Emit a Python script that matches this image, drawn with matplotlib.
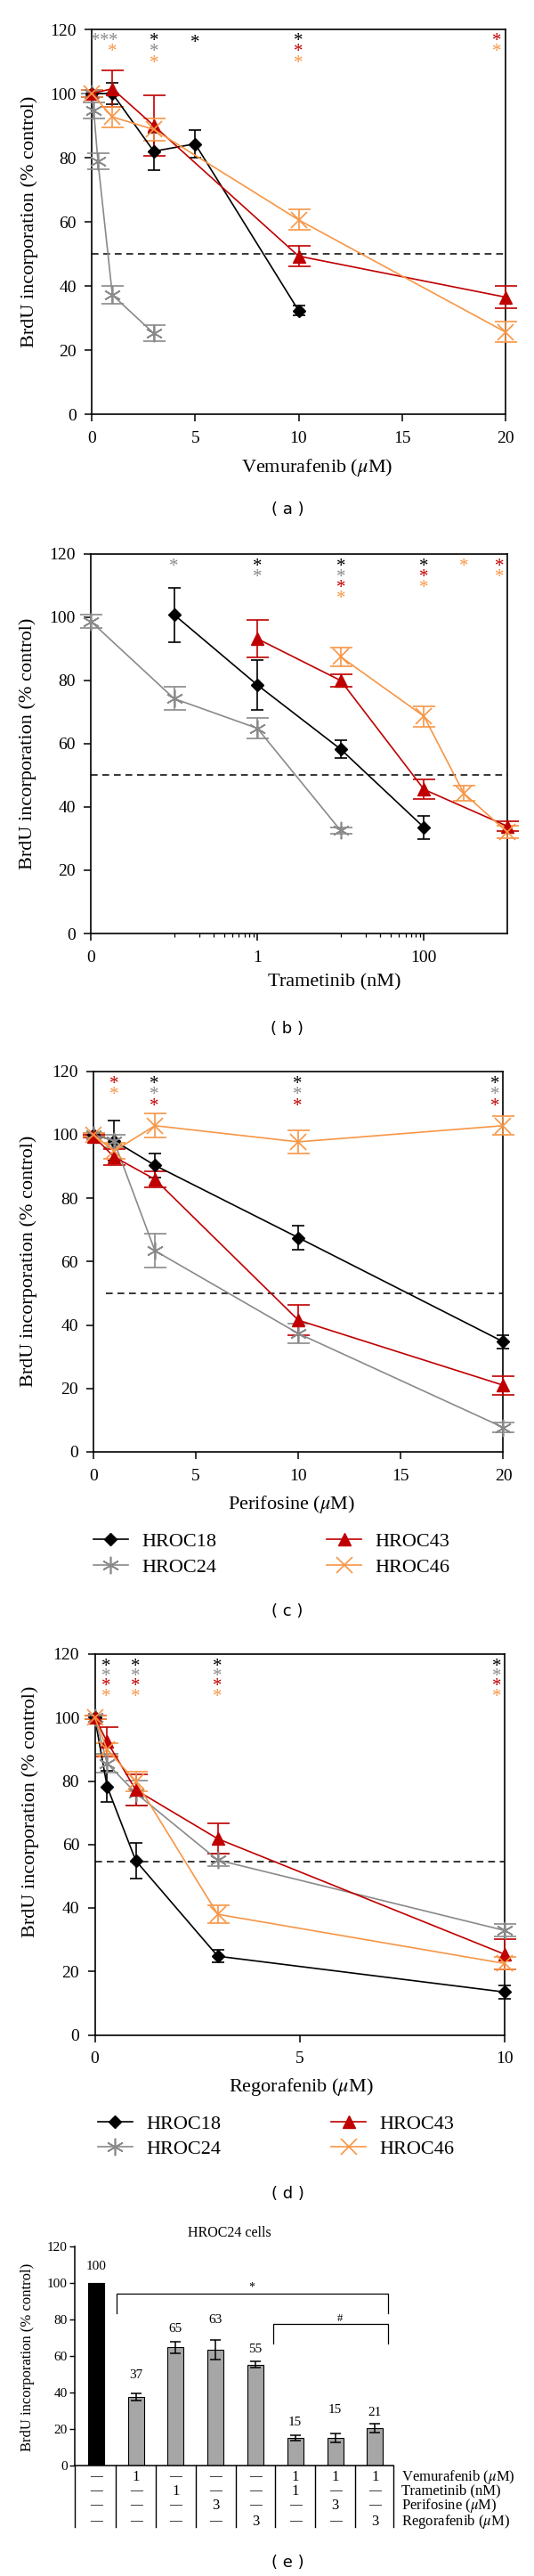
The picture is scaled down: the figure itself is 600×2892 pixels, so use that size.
import numpy as np
import matplotlib
matplotlib.use('Agg')
import matplotlib.pyplot as plt
import matplotlib.transforms as mtransforms
from matplotlib.ticker import FixedLocator, NullFormatter

plt.rcParams['font.family'] = ['Liberation Serif', 'DejaVu Serif']
plt.rcParams['mathtext.fontset'] = 'stix'

lines = ['HROC18', 'HROC24', 'HROC43', 'HROC46']

# (a) Vemurafenib (uM)
vem_x18 = [0, 1, 3, 5, 10]
vem_y18 = [100, 100, 82, 84.3, 32.3]
vem_e18 = [0.8, 3.2, 5.9, 4.4, 1.5]
vem_x24 = [0, 0.1, 0.3, 1, 3]
vem_y24 = [100, 94.8, 79, 37.2, 25.2]
vem_e24 = [0, 2.5, 2.5, 2.7, 2.5]
vem_x43 = [0, 1, 3, 10, 20]
vem_y43 = [100, 101.5, 90, 49.3, 36.5]
vem_e43 = [1, 5.6, 9.5, 3.3, 3.5]
vem_x46 = [0, 1, 3, 10, 20]
vem_y46 = [100, 92.7, 88.8, 60.6, 25.6]
vem_e46 = [1, 3.2, 3.4, 3.2, 3.2]

# (b) Trametinib (nM), dose 0 drawn at the "0" tick
tra_x18 = [0.1, 1, 10, 100]
tra_y18 = [100.7, 78.5, 58.2, 33.5]
tra_e18 = [8.6, 7.9, 2.9, 3.7]
tra_x24 = [0, 0.1, 1, 10]
tra_y24 = [98.6, 74.2, 64.8, 32.5]
tra_e24 = [2, 3.6, 3.3, 1]
tra_x43 = [1, 10, 100, 1000]
tra_y43 = [93.1, 79.9, 45.5, 33.9]
tra_e43 = [5.9, 2, 3.1, 1.5]
tra_x46 = [10, 100, 300, 1000]
tra_y46 = [87.4, 68.6, 44.3, 32]
tra_e46 = [3, 3.2, 2.5, 2]

# (c) Perifosine (uM)
per_x = [0, 1, 3, 10, 20]
per_y18 = [100, 98.1, 90.3, 67.5, 34.7]
per_e18 = [0.5, 6.2, 3.8, 3.8, 2]
per_y24 = [100, 98, 63.4, 37.3, 7.7]
per_e24 = [0.5, 2, 5.3, 3, 1.5]
per_y43 = [99.5, 93, 85.9, 41.5, 21]
per_e43 = [0.5, 2.5, 2.6, 4.7, 2.9]
per_y46 = [100, 94.8, 102.8, 97.7, 102.8]
per_e46 = [0.5, 2.5, 3.8, 3.6, 3]

# (d) Regorafenib (uM)
reg_x = [0, 0.3, 1, 3, 10]
reg_y18 = [100, 78.3, 54.9, 24.8, 13.5]
reg_e18 = [0.5, 4.9, 5.6, 2, 2]
reg_y24 = [100, 85.6, 76.2, 55.1, 32.9]
reg_e24 = [0.5, 3, 4, 2, 2]
reg_y43 = [100, 92.4, 77.2, 61.8, 25.4]
reg_e43 = [0.5, 4.6, 4.8, 4.8, 4.8]
reg_y46 = [100, 89.9, 79.9, 38, 22.5]
reg_e46 = [0.5, 2, 3, 2.9, 2]

# significance asterisks: x, row, cell line
sig_a = [(0.2, 0, 'HROC24'), (0.6, 0, 'HROC24'), (1.04, 0, 'HROC24'), (1, 1, 'HROC46'),
         (3, 0, 'HROC18'), (3, 1, 'HROC24'), (3, 2, 'HROC46'), (5, 0.2, 'HROC18'),
         (10, 0, 'HROC18'), (10, 1, 'HROC43'), (10, 2, 'HROC46'),
         (19.6, 0, 'HROC43'), (19.6, 1, 'HROC46')]
sig_b = [(0.1, 0, 'HROC24'), (1, 0, 'HROC18'), (1, 1, 'HROC24'),
         (10, 0, 'HROC18'), (10, 1, 'HROC24'), (10, 2, 'HROC43'), (10, 3, 'HROC46'),
         (100, 0, 'HROC18'), (100, 1, 'HROC43'), (100, 2, 'HROC46'),
         (300, 0, 'HROC46'), (800, 0, 'HROC43'), (800, 1, 'HROC46')]
sig_c = [(1, 0, 'HROC43'), (1, 1, 'HROC46'),
         (2.95, 0, 'HROC18'), (2.95, 1, 'HROC24'), (2.95, 2, 'HROC43'),
         (9.94, 0, 'HROC18'), (9.94, 1, 'HROC24'), (9.94, 2, 'HROC43'),
         (19.6, 0, 'HROC18'), (19.6, 1, 'HROC24'), (19.6, 2, 'HROC43')]
sig_d = [(x, r, n) for x in [0.27, 1, 3, 9.8] for r, n in enumerate(lines)]

# (e) HROC24 combinations
combo_mean = [100, 37.4, 64.7, 63.4, 55.3, 15.1, 15.3, 20.6]
combo_err = [0, 1.9, 3.1, 5.5, 1.8, 1.4, 2.4, 2.4]
combo_vem = ['—', '1', '—', '—', '—', '1', '1', '1']
combo_tra = ['—', '—', '1', '—', '—', '1', '—', '—']
combo_per = ['—', '—', '—', '3', '—', '—', '3', '—']
combo_reg = ['—', '—', '—', '—', '3', '—', '—', '3']
combo_rows = ['Vemurafenib ($\\mu$M)', 'Trametinib (nM)', 'Perifosine ($\\mu$M)', 'Regorafenib ($\\mu$M)']

colors = {'HROC18': 'black', 'HROC24': '#8a8a8a', 'HROC43': '#c00000', 'HROC46': '#f79646'}
styles = {
    'HROC18': dict(marker='D', ms=7.5, mew=1, cap=5),
    'HROC24': dict(marker=(6, 2, 0), ms=14, mew=1.2, cap=9),
    'HROC43': dict(marker='^', ms=10, mew=1, cap=9),
    'HROC46': dict(marker='x', ms=13, mew=1.2, cap=9),
}

W, H = 600, 2892
fig = plt.figure(figsize=(W / 100, H / 100), dpi=100)


def box(l, r, t, b):
    return [l / W, 1 - b / H, (r - l) / W, (b - t) / H]


def series(ax, x, y, e, name):
    st = styles[name]
    c = colors[name]
    ax.errorbar(x, y, yerr=e, fmt='none', ecolor=c, elinewidth=1.2,
                capsize=st['cap'], capthick=1.2, zorder=3, clip_on=False)
    h, = ax.plot(x, y, color=c, lw=1.2, marker=st['marker'], ms=st['ms'],
                 mew=st['mew'], mfc=c, mec=c, zorder=4, clip_on=False)
    return h


def stars(ax, sig, row_y, step):
    for x, r, n in sig:
        ax.annotate('*', (x, row_y - r * step), xytext=(0, -7.5), textcoords='offset points',
                    ha='center', va='baseline', color=colors[n], fontsize=15,
                    annotation_clip=False)


def frame(ax, xlabel, lx, ly, yx):
    ax.set_ylim(0, 120)
    ax.set_yticks(range(0, 121, 20))
    for s in ax.spines.values():
        s.set_linewidth(1.2)
    ax.tick_params(direction='out', length=5.5, width=1.1, labelsize=14)
    ax.tick_params(axis='x', pad=8)
    ax.tick_params(axis='y', pad=7)
    ax.set_xlabel(xlabel, fontsize=16)
    ax.xaxis.set_label_coords(lx, ly)
    ax.set_ylabel('BrdU incorporation (% control)', fontsize=16)
    ax.yaxis.set_label_coords(yx, 0.5)


def legend(ax, hs, left, top, spacing):
    ax.legend(hs, lines, ncol=2, loc='upper left', bbox_to_anchor=(left / W, 1 - top / H),
              bbox_transform=fig.transFigure, frameon=False, fontsize=16, handlelength=1.75,
              handletextpad=0.68, columnspacing=5.6, labelspacing=spacing, borderpad=0,
              borderaxespad=0)


def panel_label(txt, y):
    fig.text(323 / W, 1 - y / H, txt, ha='center', va='center', fontsize=13,
             family='DejaVu Sans')


# ---- (a)
ax = fig.add_axes(box(103, 568, 33, 465))
series(ax, vem_x18, vem_y18, vem_e18, 'HROC18')
series(ax, vem_x24, vem_y24, vem_e24, 'HROC24')
series(ax, vem_x43, vem_y43, vem_e43, 'HROC43')
series(ax, vem_x46, vem_y46, vem_e46, 'HROC46')
ax.axhline(50, color='black', lw=1.1, ls=(0, (5, 3.5)), zorder=1)
ax.set_xlim(0, 20)
ax.set_xticks([0, 5, 10, 15, 20])
frame(ax, 'Vemurafenib ($\\mu$M)', 0.544, -0.111, -0.13)
stars(ax, sig_a, 118, 3.5)
panel_label('( a )', 572)

# ---- (b)
ax = fig.add_axes(box(102, 570, 621.5, 1048))
ax.set_xscale('log')
zero = lambda xs: [v if v > 0 else 0.01 for v in xs]
series(ax, zero(tra_x18), tra_y18, tra_e18, 'HROC18')
series(ax, zero(tra_x24), tra_y24, tra_e24, 'HROC24')
series(ax, zero(tra_x43), tra_y43, tra_e43, 'HROC43')
series(ax, zero(tra_x46), tra_y46, tra_e46, 'HROC46')
ax.axhline(50, color='black', lw=1.1, ls=(0, (5, 3.5)), zorder=1)
ax.set_xlim(0.01, 1000)
ax.set_xticks([0.01, 1, 100])
ax.set_xticklabels(['0', '1', '100'])
ax.xaxis.set_minor_locator(FixedLocator([k * 0.1 for k in range(1, 10)] + [k * 10 for k in range(1, 10)]))
ax.xaxis.set_minor_formatter(NullFormatter())
frame(ax, 'Trametinib (nM)', 0.586, -0.107, -0.13)
ax.tick_params(which='minor', direction='out', length=3, width=0.9)
stars(ax, sig_b, 117.5, 3.4)
panel_label('( b )', 1155)

# ---- (c)
ax = fig.add_axes(box(105, 565.5, 1202.5, 1630))
hs = [series(ax, per_x, per_y18, per_e18, 'HROC18'),
      series(ax, per_x, per_y24, per_e24, 'HROC24'),
      series(ax, per_x, per_y43, per_e43, 'HROC43'),
      series(ax, per_x, per_y46, per_e46, 'HROC46')]
ax.axhline(50, xmin=0.03, color='black', lw=1.1, ls=(0, (5, 3.5)), zorder=1)
ax.set_xlim(0, 20)
ax.set_xticks([0, 5, 10, 15, 20])
frame(ax, 'Perifosine ($\\mu$M)', 0.483, -0.110, -0.136)
stars(ax, sig_c, 117.5, 3.5)
legend(ax, hs, 105, 1720.5, 0.37)
panel_label('( c )', 1809)

# ---- (d)
ax = fig.add_axes(box(106.5, 567, 1857, 2284.5))
hs = [series(ax, reg_x, reg_y18, reg_e18, 'HROC18'),
      series(ax, reg_x, reg_y24, reg_e24, 'HROC24'),
      series(ax, reg_x, reg_y43, reg_e43, 'HROC43'),
      series(ax, reg_x, reg_y46, reg_e46, 'HROC46')]
ax.axhline(54.6, color='black', lw=1.1, ls=(0, (5, 3.5)), zorder=1)
ax.set_xlim(0, 10)
ax.set_xticks([0, 5, 10])
frame(ax, 'Regorafenib ($\\mu$M)', 0.503, -0.109, -0.136)
ax.yaxis.set_label_coords(-0.136, 0.586)
stars(ax, sig_d, 117.7, 3.2)
legend(ax, hs, 110, 2374.5, 0.33)
panel_label('( d )', 2463)

# ---- (e)
ax = fig.add_axes(box(84, 442, 2522, 2768))
pos = np.arange(len(combo_mean))
bar_cols = ['black'] + ['#a6a6a6'] * (len(combo_mean) - 1)
ax.bar(pos, combo_mean, width=0.4, color=bar_cols, edgecolor='black', lw=0.8, zorder=2)
ax.errorbar(pos[1:], combo_mean[1:], yerr=combo_err[1:], fmt='none', ecolor='black',
            elinewidth=1.1, capsize=4, capthick=1.1, zorder=3)
label_pad = [9, 10.3, 7, 10.8, 6.8, 7, 13, 6.1]
for p, m, e, pad in zip(pos, combo_mean, combo_err, label_pad):
    ax.text(p, m + e + pad, f'{m:.0f}', ha='center', va='center', fontsize=11)
ax.set_xlim(-0.53, 7.46)
ax.set_ylim(0, 120)
ax.set_yticks(range(0, 121, 20))
ax.set_xticks([])
ax.spines['top'].set_visible(False)
ax.spines['right'].set_visible(False)
ax.spines['left'].set_linewidth(1.1)
ax.spines['bottom'].set_linewidth(1.1)
ax.tick_params(axis='y', direction='out', length=4, width=1, labelsize=11, pad=2)
ax.set_ylabel('BrdU incorporation (% control)', fontsize=12)
ax.yaxis.set_label_coords(-0.127, 0.496)

trans = mtransforms.blended_transform_factory(ax.transData, ax.transAxes)
for xv in [-0.53] + [i + 0.5 for i in range(len(combo_mean) - 1)] + [7.46]:
    ax.plot([xv, xv], [0, -0.279], transform=trans, color='black', lw=1, clip_on=False)
row_y = [-0.053, -0.117, -0.183, -0.255]
for ry, vals, lab in zip(row_y, [combo_vem, combo_tra, combo_per, combo_reg], combo_rows):
    for p, v in zip(pos, vals):
        ax.text(p, ry, v, transform=trans, ha='center', va='center', fontsize=12 if v != '—' else 10)
    ax.text(1.025, ry, lab, transform=ax.transAxes, ha='left', va='center', fontsize=12)

# significance brackets
ax.plot([0.53, 0.53, 7.33, 7.33], [83.4, 94.3, 94.3, 83.4], color='black', lw=0.9)
ax.text(3.9, 97.5, '*', ha='center', va='center', fontsize=10)
ax.plot([4.455, 4.455, 7.33, 7.33], [66.7, 77.6, 77.6, 66.7], color='black', lw=0.9)
ax.text(6.12, 80.5, '#', ha='center', va='center', fontsize=9)
fig.text(258 / W, 1 - 2507 / H, 'HROC24 cells', ha='center', va='center', fontsize=11.5)
panel_label('( e )', 2877)

fig.savefig('out.png', dpi=100)
